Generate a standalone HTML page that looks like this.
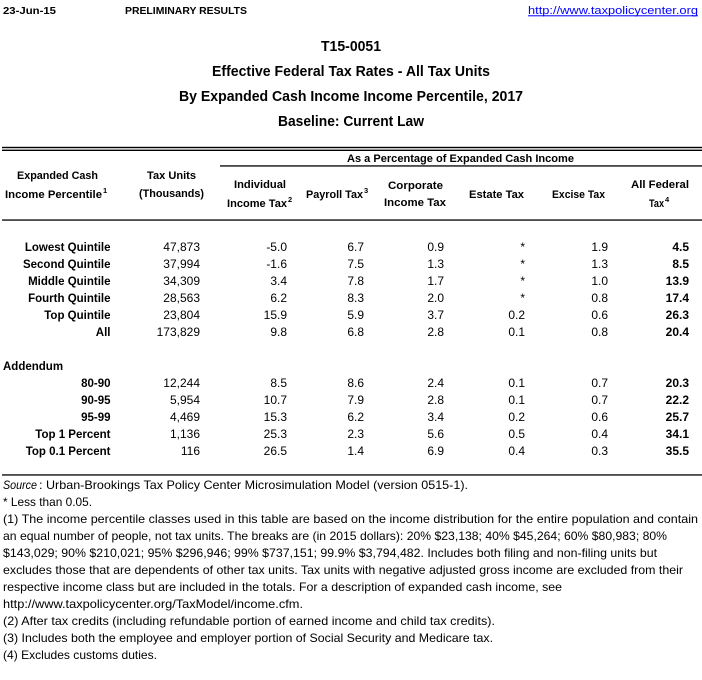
<!DOCTYPE html>
<html>
<head>
<meta charset="utf-8">
<style>
html,body{margin:0;padding:0;background:#fff;}
svg{display:block;}
text{font-family:"Liberation Sans",Arial,sans-serif;fill:#000;}
.b{font-weight:bold;}
.h{font-weight:bold;font-size:11px;}
.sup{font-weight:bold;font-size:7.5px;}
.lab{font-weight:bold;font-size:11.5px;text-anchor:end;}
.n{font-size:12px;text-anchor:end;}
.nb{font-size:12px;text-anchor:end;font-weight:bold;}
.f{font-size:12px;}
.t{font-weight:bold;font-size:14.5px;text-anchor:middle;}
</style>
</head>
<body>
<svg width="702" height="680" viewBox="0 0 702 680" xmlns="http://www.w3.org/2000/svg">
<rect x="0" y="0" width="702" height="680" fill="#fff"/>

<!-- top row -->
<text x="3" y="14" class="b" font-size="10.5" textLength="53" lengthAdjust="spacingAndGlyphs">23-Jun-15</text>
<text x="125" y="14" class="b" font-size="10.5" textLength="122" lengthAdjust="spacingAndGlyphs">PRELIMINARY RESULTS</text>
<text x="528" y="14" font-size="11" style="fill:#0000ff" textLength="170" lengthAdjust="spacingAndGlyphs">http://www.taxpolicycenter.org</text>
<rect x="528" y="15.3" width="170" height="1" fill="#0000ff"/>

<!-- titles -->
<text x="351" y="51" class="t" textLength="60" lengthAdjust="spacingAndGlyphs">T15-0051</text>
<text x="351" y="76" class="t" textLength="278" lengthAdjust="spacingAndGlyphs">Effective Federal Tax Rates - All Tax Units</text>
<text x="351" y="101" class="t" textLength="344" lengthAdjust="spacingAndGlyphs">By Expanded Cash Income Income Percentile, 2017</text>
<text x="351" y="126" class="t" textLength="146" lengthAdjust="spacingAndGlyphs">Baseline: Current Law</text>

<!-- rules -->
<rect x="2" y="146.8" width="700" height="1.4" fill="#000"/>
<rect x="2" y="149.6" width="700" height="1.4" fill="#000"/>
<rect x="220" y="165.3" width="482" height="1.3" fill="#000"/>
<rect x="2" y="219.4" width="700" height="1.3" fill="#000"/>
<rect x="2" y="474.3" width="700" height="1.3" fill="#000"/>

<!-- header -->
<text x="17" y="179" class="h" textLength="81" lengthAdjust="spacingAndGlyphs">Expanded Cash</text>
<text x="5" y="198" class="h" textLength="97" lengthAdjust="spacingAndGlyphs">Income Percentile</text>
<text x="103" y="193" class="sup">1</text>
<text x="147" y="179" class="h" textLength="49" lengthAdjust="spacingAndGlyphs">Tax Units</text>
<text x="139" y="197" class="h" textLength="65" lengthAdjust="spacingAndGlyphs">(Thousands)</text>
<text x="347" y="162" class="h" textLength="227" lengthAdjust="spacingAndGlyphs">As a Percentage of Expanded Cash Income</text>
<text x="234" y="188" class="h" textLength="52" lengthAdjust="spacingAndGlyphs">Individual</text>
<text x="227" y="207" class="h" textLength="60" lengthAdjust="spacingAndGlyphs">Income Tax</text>
<text x="288" y="202" class="sup">2</text>
<text x="306" y="198" class="h" textLength="57" lengthAdjust="spacingAndGlyphs">Payroll Tax</text>
<text x="364" y="193" class="sup">3</text>
<text x="388" y="189" class="h" textLength="55" lengthAdjust="spacingAndGlyphs">Corporate</text>
<text x="384" y="206" class="h" textLength="62" lengthAdjust="spacingAndGlyphs">Income Tax</text>
<text x="469" y="198" class="h" textLength="55" lengthAdjust="spacingAndGlyphs">Estate Tax</text>
<text x="552" y="198" class="h" textLength="53" lengthAdjust="spacingAndGlyphs">Excise Tax</text>
<text x="631" y="188" class="h" textLength="58" lengthAdjust="spacingAndGlyphs">All Federal</text>
<text x="649" y="207" class="h" textLength="15" lengthAdjust="spacingAndGlyphs">Tax</text>
<text x="665" y="202" class="sup">4</text>

<!-- data rows -->
<g>
<text x="110.5" y="251" class="lab">Lowest Quintile</text>
<text x="200" y="251" class="n">47,873</text><text x="287" y="251" class="n">-5.0</text><text x="364" y="251" class="n">6.7</text><text x="444" y="251" class="n">0.9</text><text x="525" y="251" class="n">*</text><text x="608" y="251" class="n">1.9</text><text x="689" y="251" class="nb">4.5</text>

<text x="110.5" y="268" class="lab">Second Quintile</text>
<text x="200" y="268" class="n">37,994</text><text x="287" y="268" class="n">-1.6</text><text x="364" y="268" class="n">7.5</text><text x="444" y="268" class="n">1.3</text><text x="525" y="268" class="n">*</text><text x="608" y="268" class="n">1.3</text><text x="689" y="268" class="nb">8.5</text>

<text x="110.5" y="285" class="lab">Middle Quintile</text>
<text x="200" y="285" class="n">34,309</text><text x="287" y="285" class="n">3.4</text><text x="364" y="285" class="n">7.8</text><text x="444" y="285" class="n">1.7</text><text x="525" y="285" class="n">*</text><text x="608" y="285" class="n">1.0</text><text x="689" y="285" class="nb">13.9</text>

<text x="110.5" y="302" class="lab">Fourth Quintile</text>
<text x="200" y="302" class="n">28,563</text><text x="287" y="302" class="n">6.2</text><text x="364" y="302" class="n">8.3</text><text x="444" y="302" class="n">2.0</text><text x="525" y="302" class="n">*</text><text x="608" y="302" class="n">0.8</text><text x="689" y="302" class="nb">17.4</text>

<text x="110.5" y="319" class="lab">Top Quintile</text>
<text x="200" y="319" class="n">23,804</text><text x="287" y="319" class="n">15.9</text><text x="364" y="319" class="n">5.9</text><text x="444" y="319" class="n">3.7</text><text x="525" y="319" class="n">0.2</text><text x="608" y="319" class="n">0.6</text><text x="689" y="319" class="nb">26.3</text>

<text x="110.5" y="336" class="lab">All</text>
<text x="200" y="336" class="n">173,829</text><text x="287" y="336" class="n">9.8</text><text x="364" y="336" class="n">6.8</text><text x="444" y="336" class="n">2.8</text><text x="525" y="336" class="n">0.1</text><text x="608" y="336" class="n">0.8</text><text x="689" y="336" class="nb">20.4</text>

<text x="3" y="370" class="b" font-size="11.5">Addendum</text>

<text x="110.5" y="387" class="lab">80-90</text>
<text x="200" y="387" class="n">12,244</text><text x="287" y="387" class="n">8.5</text><text x="364" y="387" class="n">8.6</text><text x="444" y="387" class="n">2.4</text><text x="525" y="387" class="n">0.1</text><text x="608" y="387" class="n">0.7</text><text x="689" y="387" class="nb">20.3</text>

<text x="110.5" y="404" class="lab">90-95</text>
<text x="200" y="404" class="n">5,954</text><text x="287" y="404" class="n">10.7</text><text x="364" y="404" class="n">7.9</text><text x="444" y="404" class="n">2.8</text><text x="525" y="404" class="n">0.1</text><text x="608" y="404" class="n">0.7</text><text x="689" y="404" class="nb">22.2</text>

<text x="110.5" y="421" class="lab">95-99</text>
<text x="200" y="421" class="n">4,469</text><text x="287" y="421" class="n">15.3</text><text x="364" y="421" class="n">6.2</text><text x="444" y="421" class="n">3.4</text><text x="525" y="421" class="n">0.2</text><text x="608" y="421" class="n">0.6</text><text x="689" y="421" class="nb">25.7</text>

<text x="110.5" y="438" class="lab">Top 1 Percent</text>
<text x="200" y="438" class="n">1,136</text><text x="287" y="438" class="n">25.3</text><text x="364" y="438" class="n">2.3</text><text x="444" y="438" class="n">5.6</text><text x="525" y="438" class="n">0.5</text><text x="608" y="438" class="n">0.4</text><text x="689" y="438" class="nb">34.1</text>

<text x="110.5" y="455" class="lab">Top 0.1 Percent</text>
<text x="200" y="455" class="n">116</text><text x="287" y="455" class="n">26.5</text><text x="364" y="455" class="n">1.4</text><text x="444" y="455" class="n">6.9</text><text x="525" y="455" class="n">0.4</text><text x="608" y="455" class="n">0.3</text><text x="689" y="455" class="nb">35.5</text>
</g>

<!-- footer -->
<text x="3" y="489" class="f" font-style="italic" textLength="34" lengthAdjust="spacingAndGlyphs">Source</text>
<text x="39" y="489" class="f" textLength="429" lengthAdjust="spacingAndGlyphs">: Urban-Brookings Tax Policy Center Microsimulation Model (version 0515-1).</text>
<text x="3" y="506" class="f" textLength="89" lengthAdjust="spacingAndGlyphs">* Less than 0.05.</text>
<text x="3" y="523" class="f" textLength="695" lengthAdjust="spacingAndGlyphs">(1)  The income percentile classes used in this table are based on the income distribution for the entire population and contain</text>
<text x="3" y="540" class="f" textLength="664" lengthAdjust="spacingAndGlyphs">an equal number of people, not tax units. The breaks are (in 2015 dollars): 20% $23,138; 40% $45,264; 60% $80,983; 80%</text>
<text x="3" y="557" class="f" textLength="654" lengthAdjust="spacingAndGlyphs">$143,029; 90% $210,021; 95% $296,946; 99% $737,151; 99.9% $3,794,482. Includes both filing and non-filing units but</text>
<text x="3" y="574" class="f" textLength="680" lengthAdjust="spacingAndGlyphs">excludes those that are dependents of other tax units. Tax units with negative adjusted gross income are excluded from their</text>
<text x="3" y="591" class="f" textLength="559" lengthAdjust="spacingAndGlyphs">respective income class but are included in the totals. For a description of expanded cash income, see</text>
<text x="3" y="608" class="f" textLength="300" lengthAdjust="spacingAndGlyphs">http://www.taxpolicycenter.org/TaxModel/income.cfm.</text>
<text x="3" y="625" class="f" textLength="492" lengthAdjust="spacingAndGlyphs">(2) After tax credits (including refundable portion of earned income and child tax credits).</text>
<text x="3" y="642" class="f" textLength="490" lengthAdjust="spacingAndGlyphs">(3) Includes both the employee and employer portion of Social Security and Medicare tax.</text>
<text x="3" y="659" class="f" textLength="154" lengthAdjust="spacingAndGlyphs">(4) Excludes customs duties.</text>
</svg>
</body>
</html>
